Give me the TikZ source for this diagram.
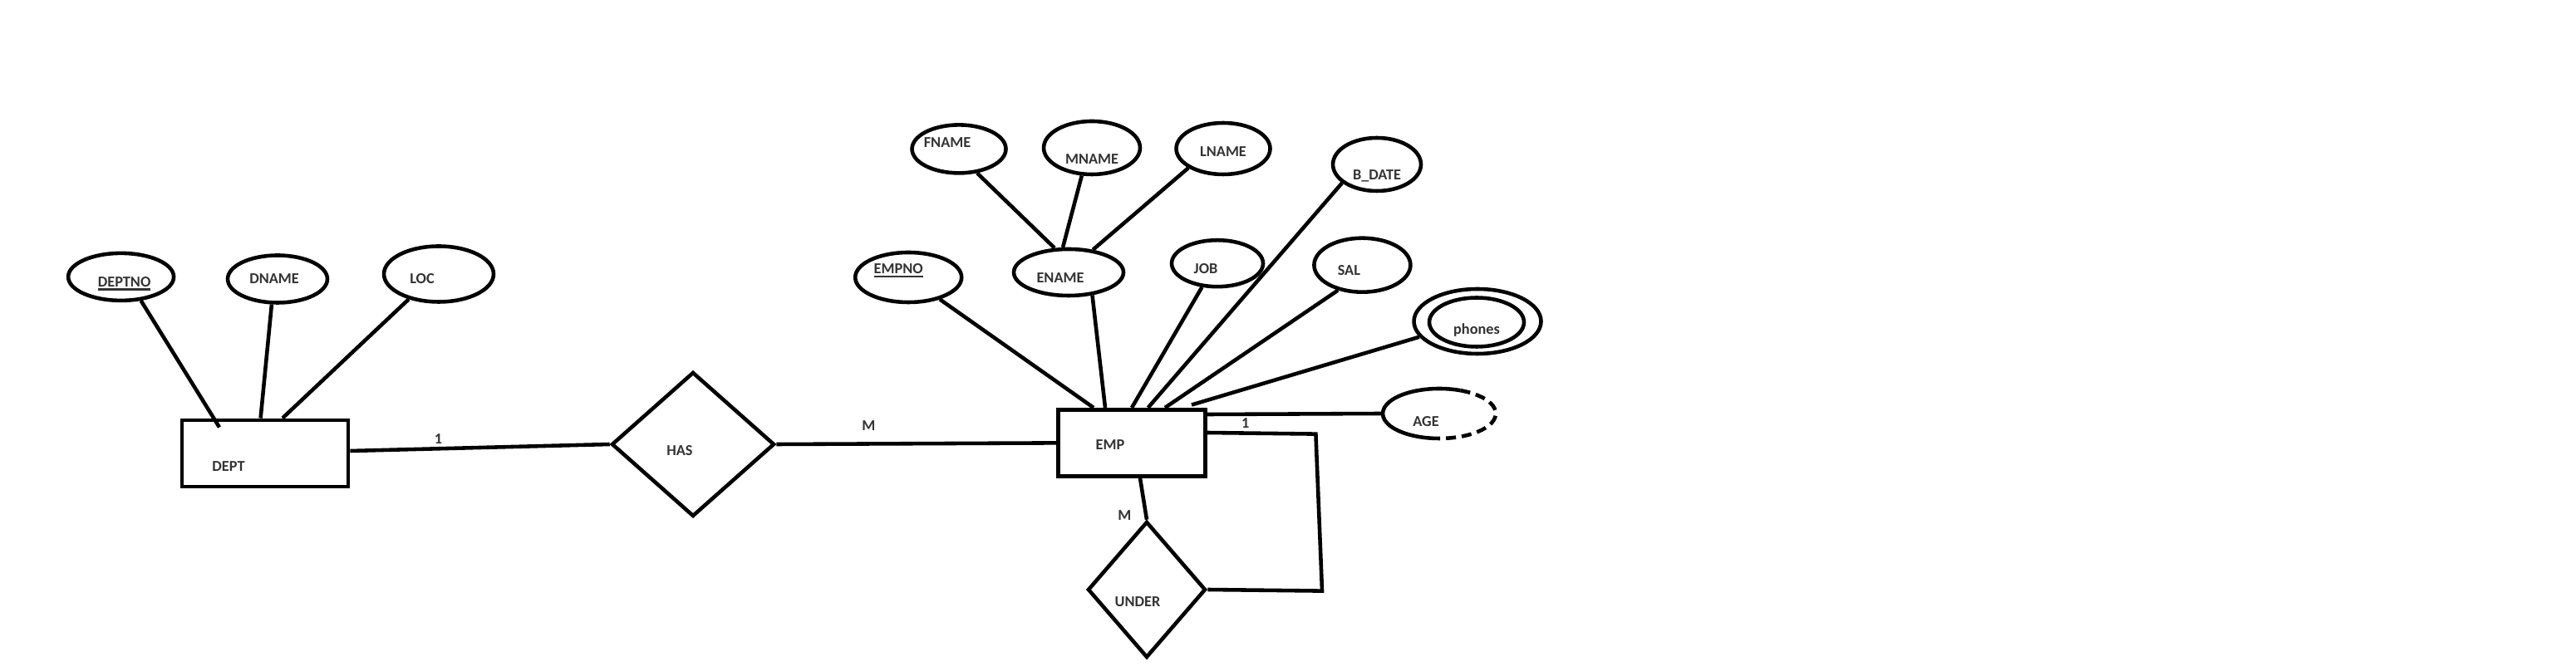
\documentclass[tikz,border=0pt]{standalone}
\usepackage{fontspec}
\setmainfont{Carlito}
\usetikzlibrary{shapes.geometric}
\pgfdeclarelayer{edgelayer}
\pgfdeclarelayer{nodelayer}
\pgfsetlayers{edgelayer,nodelayer,main}
\tikzset{font=\fontsize{5.2}{6}\selectfont\bfseries, text=black!80}
\tikzstyle{attr}=[ellipse,draw,line width=1.3pt,inner sep=0pt]
\tikzstyle{entity}=[rectangle,draw,line width=1.4pt,inner sep=0pt]
\tikzstyle{rel}=[diamond,draw,line width=1.3pt,inner sep=0pt]
\tikzstyle{card}=[inner sep=1pt]
\tikzstyle{link}=[line width=1.3pt]
\newcommand{\keyattr}[1]{\leavevmode\vtop{\hbox{#1}\kern0.6pt\hrule height0.6pt}}

\begin{document}
\begin{tikzpicture}[x=0.02cm,y=-0.02cm]
	\useasboundingbox (0,0) rectangle (1550,401);
	\begin{pgfonlayer}{nodelayer}
		\node [style=attr, minimum width=1.27cm, minimum height=0.57cm, label={[shift={(2,4)}]center:\keyattr{DEPTNO}}] (deptno) at (72.8,166.7) {};
		\node [style=attr, minimum width=1.2cm, minimum height=0.57cm, label={[shift={(-2,0)}]center:DNAME}] (dname) at (167,168) {};
		\node [style=attr, minimum width=1.32cm, minimum height=0.67cm, label={[shift={(-10,3)}]center:LOC}] (loc) at (264,165) {};
		\node [style=entity, minimum width=2cm, minimum height=0.8cm, label={[shift={(-22,8)}]center:DEPT}] (dept) at (159.5,273) {};
		\node [style=rel, minimum width=1.96cm, minimum height=1.74cm, label={[shift={(-8,4)}]center:HAS}] (has) at (417,267.5) {};
		\node [style=entity, minimum width=1.77cm, minimum height=0.8cm, label={[shift={(-13,1)}]center:EMP}] (emp) at (681,266.7) {};
		\node [style=rel, minimum width=1.42cm, minimum height=1.64cm, label={[shift={(-5.5,7.5)}]center:UNDER}] (under) at (690,355) {};
		\node [style=attr, minimum width=1.28cm, minimum height=0.6cm, label={[shift={(-6,-4)}]center:\keyattr{EMPNO}}] (empno) at (546.6,167) {};
		\node [style=attr, minimum width=1.32cm, minimum height=0.56cm, label={[shift={(-5,3.5)}]center:ENAME}] (ename) at (643,164) {};
		\node [style=attr, minimum width=1.13cm, minimum height=0.58cm, label={[shift={(-7,-4)}]center:FNAME}] (fname) at (577,89.7) {};
		\node [style=attr, minimum width=1.16cm, minimum height=0.64cm, label={[shift={(0,7)}]center:MNAME}] (mname) at (657,89) {};
		\node [style=attr, minimum width=1.13cm, minimum height=0.62cm, label={[shift={(0,2)}]center:LNAME}] (lname) at (736,89.5) {};
		\node [style=attr, minimum width=1.06cm, minimum height=0.64cm, label={[shift={(0,7)}]center:B\_DATE}] (bdate) at (828.5,99) {};
		\node [style=attr, minimum width=1.1cm, minimum height=0.56cm, label={[shift={(-7,3)}]center:JOB}] (job) at (732.5,158.6) {};
		\node [style=attr, minimum width=1.16cm, minimum height=0.65cm, label={[shift={(-8,3)}]center:SAL}] (sal) at (819.7,159.6) {};
		\node [style=attr, minimum width=1.53cm, minimum height=0.78cm] (phones) at (889,193.5) {};
		\node [style=attr, minimum width=1.14cm, minimum height=0.59cm, label={[shift={(0,5)}]center:phones}] (phonesin) at (888.5,194) {};
		\node [style=attr, draw=none, minimum width=1.36cm, minimum height=0.6cm, label={[shift={(-8,5)}]center:AGE}] (age) at (866,249) {};
		\draw [style=link] ([shift={(68:0.68cm and 0.3cm)}]age.center) arc [start angle=68, end angle=265, x radius=0.68cm, y radius=0.3cm];
		\draw [style=link, dash pattern=on 0.12cm off 0.07cm] ([shift={(68:0.68cm and 0.3cm)}]age.center) arc [start angle=68, end angle=-95, x radius=0.68cm, y radius=0.3cm];
		\coordinate (loopa) at (791.7,261.3);
		\coordinate (loopb) at (795.5,355.8);
	\end{pgfonlayer}
	\begin{pgfonlayer}{edgelayer}
		\draw [style=link] (deptno.-50) to ([xshift=-0.55cm, yshift=-0.11cm]dept.north);
		\draw [style=link] (dname.-103) to ([xshift=-0.054cm]dept.north);
		\draw [style=link] (loc.-140) to ([xshift=0.21cm]dept.north);
		\draw [style=link] ([yshift=0.03cm]dept.east) to node [style=card, pos=.34, above] {1} (has.west);
		\draw [style=link] (has.east) to node [style=card, pos=.33, above=3pt] {M} (emp.west);
		\draw [style=link] (fname.-53) to (ename.120);
		\draw [style=link] (mname.-110) to (ename.103);
		\draw [style=link] (lname.-151) to (ename.43);
		\draw [style=link] (empno.-35) to ([xshift=-0.46cm]emp.north);
		\draw [style=link] (ename.-44) to ([xshift=-0.32cm]emp.north);
		\draw [style=link] (job.-123) to (emp.north);
		\draw [style=link] (bdate.-152) to ([xshift=0.196cm]emp.north);
		\draw [style=link] (sal.-134) to ([xshift=0.4cm]emp.north);
		\draw [style=link] (phones.-165) to ([xshift=0.72cm, yshift=0.034cm]emp.north);
		\draw [style=link] ([yshift=0.344cm]emp.east) to (age.west);
		\draw [style=link] ([yshift=0.124cm]emp.east) to node [style=card, pos=.35, above] {1} (loopa) to (loopb) to (under.east);
		\draw [style=link] ([xshift=0.1cm]emp.south) to node [style=card, pos=.9, left=0.12cm] {M} (under.north);
	\end{pgfonlayer}
\end{tikzpicture}
\end{document}
